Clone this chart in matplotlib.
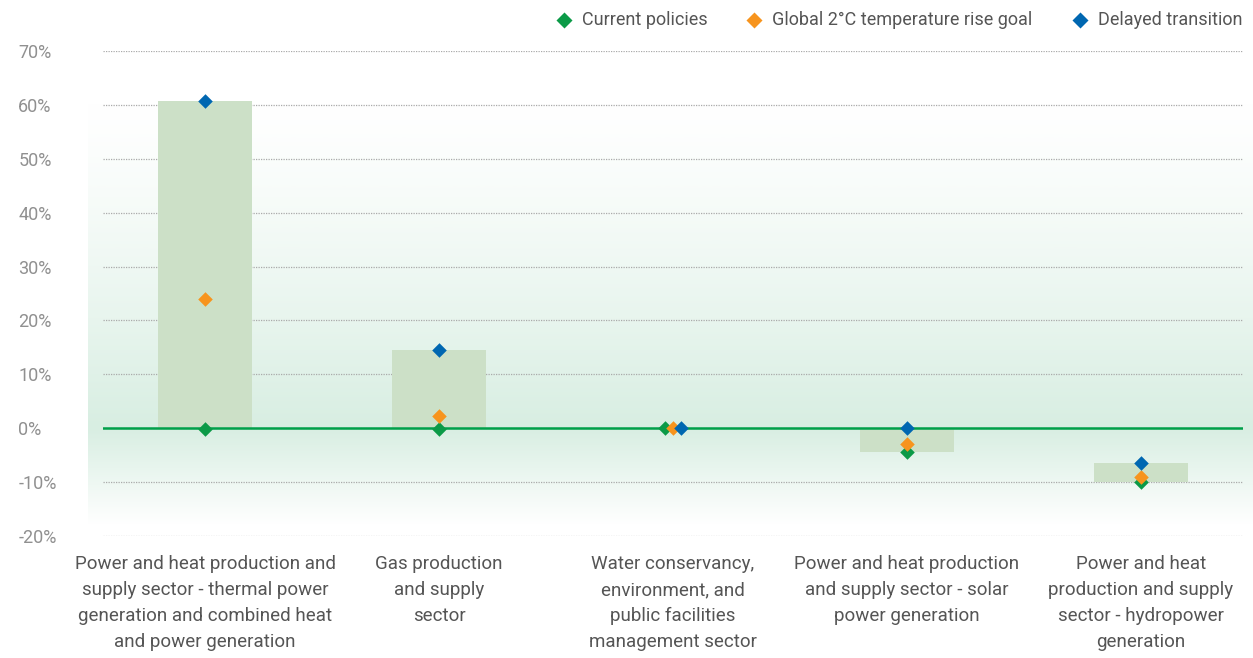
import numpy as np
import matplotlib.pyplot as plt
from matplotlib.colors import LinearSegmentedColormap
from matplotlib import font_manager

# categories and values (%)
categories = [
    "Power and heat production and\nsupply sector - thermal power\ngeneration and combined heat\nand power generation",
    "Gas production\nand supply\nsector",
    "Water conservancy,\nenvironment, and\npublic facilities\nmanagement sector",
    "Power and heat production\nand supply sector - solar\npower generation",
    "Power and heat\nproduction and supply\nsector - hydropower\ngeneration",
]
current_policies = [-0.1, -0.2, 0.0, -4.5, -9.9]
global_2c_goal = [23.9, 2.2, 0.0, -3.0, -9.1]
delayed_transition = [60.7, 14.5, 0.0, 0.0, -6.5]
yticks = [-20, -10, 0, 10, 20, 30, 40, 50, 60, 70]

names = {f.name for f in font_manager.fontManager.ttflist}
fam = "Liberation Sans Narrow" if "Liberation Sans Narrow" in names else "Roboto"
plt.rcParams["font.family"] = [fam, "DejaVu Sans"]

fig = plt.figure(figsize=(12.53, 6.58), dpi=100)
ax = fig.add_axes([103 / 1253, 1 - 536 / 658, 1140 / 1253, 485 / 658])

x = np.arange(len(categories))
vals = np.array([current_policies, global_2c_goal, delayed_transition])
lo = vals.min(axis=0)
hi = vals.max(axis=0)
# pale bars spanning min..max of the scenarios
ax.bar(x, hi - lo, bottom=lo, width=0.40, color="#cce0c7", zorder=2)

# background gradient band, strongest at the zero line
y_top, y_bot = 61.0, -18.0
yy = np.linspace(y_bot, y_top, 400)
shade = np.where(yy >= 0, (1 - yy / y_top) ** 1.3, 1 - (-yy / -y_bot))
cmap = LinearSegmentedColormap.from_list("bg", ["#ffffff", "#d8eee2"])
ax.imshow(shade.reshape(-1, 1), cmap=cmap, vmin=0, vmax=1, aspect="auto",
          extent=(-0.5, 4.55, y_bot, y_top), origin="lower",
          zorder=0, clip_on=False)

ax.axhline(0, color="#00a04a", lw=1.8, zorder=3)

# small horizontal offsets for overlapping markers in the water category
off = np.array([0, 0, 0.035, 0, 0])
colors = ["#0b9a47", "#f7941d", "#0067b1"]
labels = ["Current policies", "Global 2\u00b0C temperature rise goal", "Delayed transition"]
shifts = [-1, 0, 1]
for v, c, lab, s in zip(vals, colors, labels, shifts):
    ax.scatter(x + off * s, v, marker="D", s=55, color=c, label=lab,
               zorder=4, linewidths=0)

ax.set_xlim(-0.436, 4.436)
ax.set_ylim(-20, 70)
ax.set_yticks(yticks)
ax.set_yticklabels([f"{t}%" for t in yticks])
ax.yaxis.grid(True, linestyle=(0, (1, 1)), color="#aaaaaa", lw=0.9, zorder=1)
ax.set_axisbelow(True)
for sp in ax.spines.values():
    sp.set_visible(False)
ax.tick_params(axis="y", length=0, labelsize=13, labelcolor="#909090", pad=61)
for lbl in ax.get_yticklabels():
    lbl.set_horizontalalignment("left")
ax.set_xticks(x)
ax.set_xticklabels(categories, fontsize=13.5, color="#555555", linespacing=1.55,
                   va="top")
ax.tick_params(axis="x", length=0, pad=14)
ax.patch.set_alpha(0)

leg = fig.legend(loc="upper right", bbox_to_anchor=(1.0, 1.0), ncol=3, frameon=False,
                 fontsize=13, handletextpad=0.0, columnspacing=1.6,
                 markerscale=1.1, borderaxespad=0.2)
for t in leg.get_texts():
    t.set_color("#555555")

fig.savefig("out.png", dpi=100)
